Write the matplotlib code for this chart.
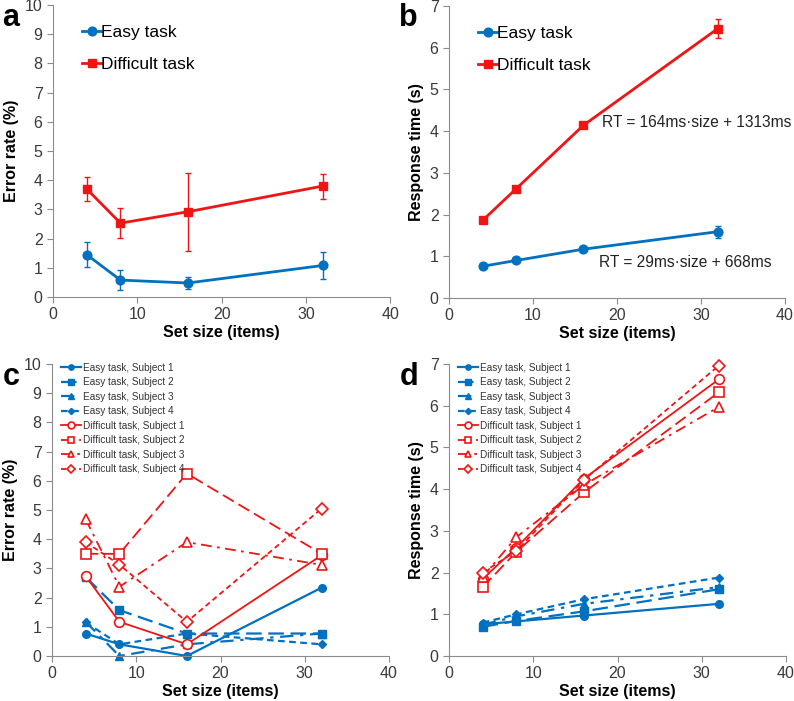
import matplotlib
matplotlib.use("Agg")
import matplotlib.pyplot as plt

plt.rcParams['font.family'] = ['Liberation Sans', 'DejaVu Sans']

set_size = [4, 8, 16, 32]

# panel a: mean error rate (%)
err_easy = [1.45, 0.58, 0.48, 1.08]
err_easy_sd = [0.43, 0.34, 0.19, 0.45]
err_diff = [3.70, 2.53, 2.92, 3.80]
err_diff_sd = [0.40, 0.52, 1.33, 0.43]

# panel b: mean response time (s)
rt_easy = [0.76, 0.90, 1.17, 1.59]
rt_easy_sd = [0.03, 0.03, 0.04, 0.14]
rt_diff = [1.86, 2.62, 4.14, 6.46]
rt_diff_sd = [0.04, 0.04, 0.05, 0.22]

# panel c: error rate per subject
err_easy_subj = [
    [0.77, 0.40, 0.00, 2.34],
    [2.70, 1.57, 0.77, 0.77],
    [1.17, 0.00, 0.40, 0.77],
    [1.15, 0.40, 0.77, 0.40],
]
err_diff_subj = [
    [2.73, 1.17, 0.40, 3.45],
    [3.50, 3.50, 6.25, 3.50],
    [4.68, 2.37, 3.90, 3.12],
    [3.90, 3.13, 1.17, 5.05],
]

# panel d: response time per subject
rt_easy_subj = [
    [0.76, 0.83, 0.97, 1.25],
    [0.70, 0.84, 1.07, 1.60],
    [0.75, 0.95, 1.25, 1.65],
    [0.80, 1.00, 1.36, 1.88],
]
rt_diff_subj = [
    [1.85, 2.60, 4.25, 6.63],
    [1.65, 2.50, 3.92, 6.32],
    [1.90, 2.85, 4.10, 5.97],
    [2.00, 2.52, 4.22, 6.96],
]

subjects = ["Subject 1", "Subject 2", "Subject 3", "Subject 4"]

BLUE = '#0070C0'
RED = '#F01414'
AXC = '#8c8c8c'

fig = plt.figure(figsize=(7.94, 7.01), dpi=100)
ax_a = fig.add_axes([0.0668, 0.5763, 0.4245, 0.4165])
ax_b = fig.add_axes([0.5655, 0.5749, 0.4232, 0.4165])
ax_c = fig.add_axes([0.0655, 0.0642, 0.4245, 0.4165])
ax_d = fig.add_axes([0.5655, 0.0642, 0.4245, 0.4165])


def style_axes(ax, ymax, ylabel):
    ax.set_xlim(0, 40)
    ax.set_ylim(0, ymax)
    ax.set_xticks(range(0, 41, 10))
    ax.set_yticks(range(0, ymax + 1))
    for s in ['top', 'right']:
        ax.spines[s].set_visible(False)
    for s in ['left', 'bottom']:
        ax.spines[s].set_color(AXC)
        ax.spines[s].set_linewidth(0.8)
    ax.tick_params(colors=AXC, labelcolor='#3a3a3a', labelsize=11.5,
                   length=4, width=0.8, direction='out')
    ax.set_xlabel("Set size (items)", fontsize=11.5, fontweight='bold', labelpad=2)
    ax.set_ylabel(ylabel, fontsize=11.5, fontweight='bold', labelpad=4)


def mean_panel(ax, easy, easy_sd, diff, diff_sd):
    ax.errorbar(set_size, easy, yerr=easy_sd, color=BLUE, marker='o', ms=6.3,
                lw=2, capsize=2.5, elinewidth=1, clip_on=False)
    ax.errorbar(set_size, diff, yerr=diff_sd, color=RED, marker='s', ms=6.3,
                lw=2, capsize=2.5, elinewidth=1, clip_on=False)
    h1, = ax.plot([], [], color=BLUE, marker='o', ms=6.3, lw=2)
    h2, = ax.plot([], [], color=RED, marker='s', ms=6.3, lw=2)
    ax.legend([h1, h2], ["Easy task", "Difficult task"], loc='upper left',
              bbox_to_anchor=(0.04, 0.985), frameon=False, fontsize=12.5,
              handlelength=1.1, handletextpad=0.0, labelspacing=0.95)


mean_panel(ax_a, err_easy, err_easy_sd, err_diff, err_diff_sd)
style_axes(ax_a, 10, "Error rate (%)")

mean_panel(ax_b, rt_easy, rt_easy_sd, rt_diff, rt_diff_sd)
style_axes(ax_b, 7, "Response time (s)")
ax_b.text(18.2, 4.2, "RT = 164ms\u00b7size + 1313ms", fontsize=11.2, va='center', color='#222222')
ax_b.text(17.8, 0.86, "RT = 29ms\u00b7size + 668ms", fontsize=11.2, va='center', color='#222222')

styles = ['-', (0, (7, 3)), (0, (6, 3, 1.5, 3)), (0, (3, 2))]
easy_markers = ['o', 's', '^', 'D']
easy_ms = [5.5, 5.5, 5.5, 4.5]
diff_markers = ['o', 's', '^', 'D']
diff_ms = [7, 7, 7, 6]


def subject_panel(ax, easy, diff):
    for i in range(4):
        ax.plot(set_size, easy[i], color=BLUE, ls=styles[i], lw=1.6,
                marker=easy_markers[i], ms=easy_ms[i], mec=BLUE, mfc=BLUE,
                label=f"Easy task, {subjects[i]}", clip_on=False)
    for i in range(4):
        ax.plot(set_size, diff[i], color=RED, ls=styles[i], lw=1.3,
                marker=diff_markers[i], ms=diff_ms[i], mec=RED, mfc='white', mew=1.2,
                label=f"Difficult task, {subjects[i]}", clip_on=False)
    leg = ax.legend(loc='upper left', bbox_to_anchor=(0.0, 1.035), frameon=False,
                    fontsize=7.2, handlelength=2.0, handletextpad=0.15,
                    labelspacing=0.45, markerscale=0.7)
    for t in leg.get_texts():
        t.set_color('#333333')


subject_panel(ax_c, err_easy_subj, err_diff_subj)
style_axes(ax_c, 10, "Error rate (%)")
subject_panel(ax_d, rt_easy_subj, rt_diff_subj)
style_axes(ax_d, 7, "Response time (s)")

fig.text(0.003, 0.975, "a", fontsize=22, fontweight='bold', va='center')
fig.text(0.503, 0.975, "b", fontsize=22, fontweight='bold', va='center')
fig.text(0.003, 0.462, "c", fontsize=22, fontweight='bold', va='center')
fig.text(0.503, 0.462, "d", fontsize=22, fontweight='bold', va='center')

fig.savefig("out.png", dpi=100)
